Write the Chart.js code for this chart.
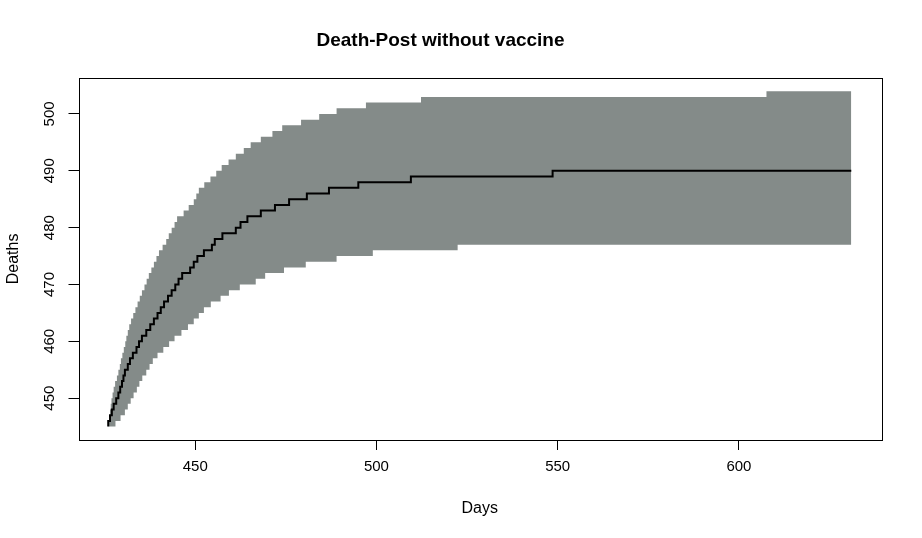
<!DOCTYPE html>
<html>
<head>
<meta charset="utf-8">
<script src="https://cdn.jsdelivr.net/npm/chart.js@4"></script>
<style>
  html, body { margin: 0; padding: 0; background: #fff; }
  #wrap { width: 922px; height: 538px; }
</style>
</head>
<body>
<div id="wrap"><canvas id="chart" width="922" height="538"></canvas></div>
<script>
/* ===== DATA ===== */
const X_TICKS = [450, 500, 550, 600];
const Y_TICKS = [450, 460, 470, 480, 490, 500];

// mean curve: day at which the count steps up, and the new count
const meanDays = [426, 426.0, 426.5, 427.0, 427.5, 428.2, 428.8, 429.3, 429.8, 430.2, 430.6,
  431.4, 432.0, 432.8, 433.8, 434.5, 435.3, 436.5, 437.6, 438.6, 439.6, 440.5, 441.4, 442.5,
  443.5, 444.5, 445.4, 446.4, 448.6, 449.6, 450.6, 452.4, 454.6, 455.4, 457.5, 461.2, 462.5,
  464.4, 468.1, 472.0, 475.9, 480.8, 486.9, 495.0, 509.5, 548.6, 631];
const meanDeaths = [445, 446, 447, 448, 449, 450, 451, 452, 453, 454, 455,
  456, 457, 458, 459, 460, 461, 462, 463, 464, 465, 466, 467, 468,
  469, 470, 471, 472, 473, 474, 475, 476, 477, 478, 479, 480, 481,
  482, 483, 484, 485, 486, 487, 488, 489, 490, 490];

// upper band edge
const upperDays = [426, 426.1, 426.3, 426.5, 426.7, 426.9, 427.2, 427.5, 427.9, 428.4, 428.8,
  429.2, 429.5, 429.9, 430.3, 430.7, 431.0, 431.4, 431.8, 432.3, 432.9, 433.5, 434.1, 434.7,
  435.3, 436.0, 436.6, 437.2, 437.9, 438.6, 439.3, 440.0, 441.0, 442.0, 442.7, 443.5, 444.3,
  445.0, 446.8, 448.2, 449.6, 450.3, 451.0, 452.5, 454.2, 455.8, 457.3, 459.2, 461.2, 463.4,
  465.3, 468.1, 471.3, 474.0, 479.2, 484.2, 489.0, 497.1, 512.3, 607.6, 631];
const upperDeaths = [445, 446, 447, 448, 449, 450, 451, 452, 453, 454, 455,
  456, 457, 458, 459, 460, 461, 462, 463, 464, 465, 466, 467, 468,
  469, 470, 471, 472, 473, 474, 475, 476, 477, 478, 479, 480, 481,
  482, 483, 484, 485, 486, 487, 488, 489, 490, 491, 492, 493, 494,
  495, 496, 497, 498, 499, 500, 501, 502, 503, 504, 504];

// lower band edge
const lowerDays = [426, 428.0, 429.4, 430.6, 431.4, 432.2, 433.0, 433.9, 434.6, 435.4, 436.5,
  437.4, 438.3, 439.6, 441.2, 442.8, 444.3, 446.2, 448.0, 449.6, 451.0, 452.4, 454.3, 457.0,
  459.3, 462.3, 466.7, 469.3, 474.5, 480.5, 489.0, 499.0, 522.4, 631];
const lowerDeaths = [445, 446, 447, 448, 449, 450, 451, 452, 453, 454, 455,
  456, 457, 458, 459, 460, 461, 462, 463, 464, 465, 466, 467, 468,
  469, 470, 471, 472, 473, 474, 475, 476, 477, 477];

const FONT = "'Liberation Sans', Arial, sans-serif";
const BAND = "#848b89";

function pts(xs, ys) {
  return xs.map((x, i) => ({ x: x, y: ys[i] }));
}

/* ===== PLUGIN: box + rotated y labels (R look) ===== */
const rStyle = {
  id: "rStyle",
  afterDraw(chart) {
    const ctx = chart.ctx;
    const a = chart.chartArea;
    ctx.save();
    ctx.strokeStyle = "#000";
    ctx.lineWidth = 1;
    ctx.strokeRect(Math.round(a.left) + 0.5, Math.round(a.top) + 0.5,
      Math.round(a.right - a.left), Math.round(a.bottom - a.top));

    const ys = chart.scales.y;
    ctx.fillStyle = "#000";
    ctx.font = "15px " + FONT;
    ctx.textAlign = "center";
    ctx.textBaseline = "middle";
    Y_TICKS.forEach((v) => {
      ctx.save();
      ctx.translate(50, ys.getPixelForValue(v));
      ctx.rotate(-Math.PI / 2);
      ctx.fillText(String(v), 0, 0);
      ctx.restore();
    });
    ctx.restore();
  },
};

/* ===== CHART ===== */
new Chart(document.getElementById("chart"), {
  type: "line",
  data: {
    datasets: [
      {
        label: "mean",
        data: pts(meanDays, meanDeaths),
        borderColor: "#000",
        borderWidth: 2,
        pointRadius: 0,
        stepped: true,
        fill: false,
        order: 0,
      },
      {
        label: "upper",
        data: pts(upperDays, upperDeaths),
        borderWidth: 0,
        borderColor: BAND,
        backgroundColor: BAND,
        pointRadius: 0,
        stepped: true,
        fill: "+1",
        order: 1,
      },
      {
        label: "lower",
        data: pts(lowerDays, lowerDeaths),
        borderWidth: 0,
        borderColor: BAND,
        pointRadius: 0,
        stepped: true,
        fill: false,
        order: 2,
      },
    ],
  },
  options: {
    responsive: false,
    animation: false,
    layout: { padding: { left: 0, right: 41, top: 0, bottom: 0 } },
    plugins: {
      legend: { display: false },
      tooltip: { enabled: false },
      title: {
        display: true,
        text: "Death-Post without vaccine",
        color: "#000",
        font: { family: FONT, size: 19, weight: "bold" },
        padding: { top: 29, bottom: 26 },
      },
    },
    scales: {
      x: {
        type: "linear",
        min: 417.8,
        max: 639.2,
        afterBuildTicks: (s) => { s.ticks = X_TICKS.map((v) => ({ value: v })); },
        afterFit: (s) => { s.height = 98; },
        grid: { drawOnChartArea: false, drawTicks: true, tickLength: 10, color: "#000", tickColor: "#000" },
        border: { display: false },
        ticks: { color: "#000", font: { family: FONT, size: 15 }, padding: 8, maxRotation: 0 },
        title: {
          display: true,
          text: "Days",
          color: "#000",
          font: { family: FONT, size: 16 },
          padding: { top: 0, bottom: 20 },
        },
      },
      y: {
        type: "linear",
        min: 442.64,
        max: 506.36,
        afterBuildTicks: (s) => { s.ticks = Y_TICKS.map((v) => ({ value: v })); },
        afterFit: (s) => { s.width = 78.5; },
        grid: { drawOnChartArea: false, drawTicks: true, tickLength: 10, color: "#000", tickColor: "#000" },
        border: { display: false },
        ticks: { display: false },
        title: {
          display: true,
          text: "Deaths",
          color: "#000",
          font: { family: FONT, size: 16 },
          padding: { top: 4, bottom: 0 },
        },
      },
    },
  },
  plugins: [rStyle],
});
</script>
</body>
</html>
